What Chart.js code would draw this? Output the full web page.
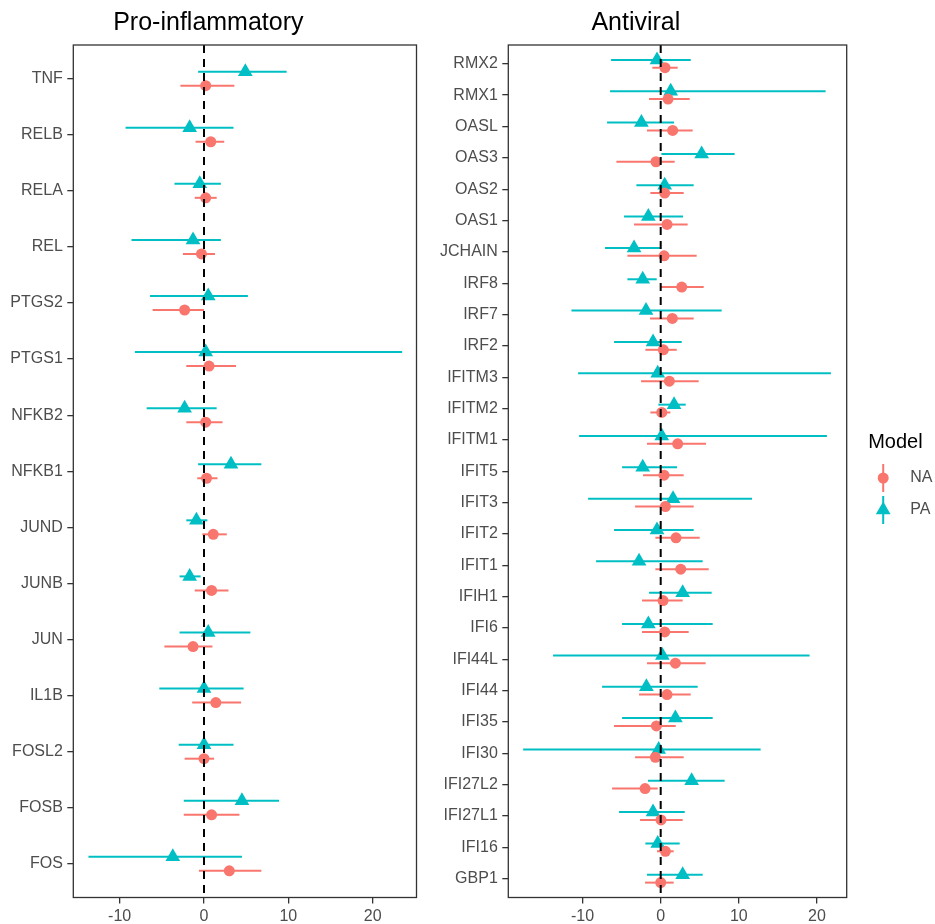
<!DOCTYPE html>
<html>
<head>
<meta charset="utf-8">
<script src="https://cdn.jsdelivr.net/npm/chart.js@4/dist/chart.umd.min.js"></script>
<style>
  body { margin: 0; background: #fff; }
  #wrap { position: relative; width: 935px; height: 924px; }
  .panel { position: absolute; top: 0; height: 924px; }
</style>
</head>
<body>
<div id="wrap">
  <div class="panel" style="left:0;width:425px"><canvas id="pro"></canvas></div>
  <div class="panel" style="left:425px;width:510px"><canvas id="anti"></canvas></div>
</div>
<script>
// categories, top to bottom as shown
const proGenes = ['TNF', 'RELB', 'RELA', 'REL', 'PTGS2', 'PTGS1', 'NFKB2', 'NFKB1',
  'JUND', 'JUNB', 'JUN', 'IL1B', 'FOSL2', 'FOSB', 'FOS'];
const proNA   = [0.2, 0.8, 0.2, -0.3, -2.3, 0.6, 0.2, 0.3, 1.1, 0.9, -1.3, 1.4, 0.0, 0.9, 3.0];
const proNAlo = [-2.8, -1.0, -1.1, -2.5, -6.1, -2.1, -2.1, -0.8, -0.2, -1.1, -4.7, -1.4, -2.3, -2.4, -0.6];
const proNAhi = [3.6, 2.4, 1.5, 1.3, 0.0, 3.8, 2.2, 1.6, 2.7, 2.9, 1.0, 4.4, 1.2, 4.2, 6.8];
const proPA   = [4.9, -1.7, -0.5, -1.3, 0.5, 0.2, -2.3, 3.2, -0.9, -1.7, 0.5, 0.0, 0.0, 4.5, -3.7];
const proPAlo = [-0.7, -9.3, -3.5, -8.6, -6.4, -8.2, -6.8, -0.7, -2.1, -2.9, -2.9, -5.3, -3.0, -2.4, -13.7];
const proPAhi = [9.8, 3.5, 2.0, 2.0, 5.2, 23.5, 1.5, 6.8, 0.4, -0.4, 5.5, 4.7, 3.5, 8.9, 4.5];

const antiGenes = ['RMX2', 'RMX1', 'OASL', 'OAS3', 'OAS2', 'OAS1', 'JCHAIN', 'IRF8', 'IRF7',
  'IRF2', 'IFITM3', 'IFITM2', 'IFITM1', 'IFIT5', 'IFIT3', 'IFIT2', 'IFIT1', 'IFIH1', 'IFI6',
  'IFI44L', 'IFI44', 'IFI35', 'IFI30', 'IFI27L2', 'IFI27L1', 'IFI16', 'GBP1'];
const antiNA   = [0.55, 0.94, 1.53, -0.6, 0.51, 0.81, 0.43, 2.69, 1.49, 0.34, 1.11, 0.13, 2.17, 0.43,
  0.6, 1.96, 2.56, 0.3, 0.51, 1.88, 0.81, -0.55, -0.68, -2.0, 0.04, 0.6, 0.0];
const antiNAlo = [-1.07, -1.49, -1.75, -5.67, -1.32, -3.41, -4.26, -0.09, -1.36, -1.96, -2.51, -1.32,
  -1.75, -2.26, -3.28, -0.68, -0.68, -2.39, -2.39, -1.75, -2.77, -5.97, -3.28, -6.22, -2.64, -0.47, -2.0];
const antiNAhi = [2.17, 3.71, 4.09, 1.79, 2.94, 3.45, 4.6, 5.5, 4.22, 2.05, 4.86, 1.24, 5.8, 2.94,
  4.22, 4.99, 6.14, 2.81, 3.58, 5.75, 3.84, 1.92, 2.94, -0.38, 2.81, 1.66, 1.66];
const antiPA   = [-0.47, 1.28, -2.47, 5.24, 0.51, -1.58, -3.41, -2.3, -1.88, -0.98, -0.38, 1.71, 0.13,
  -2.3, 1.58, -0.47, -2.77, 2.81, -1.58, 0.21, -1.83, 1.88, -0.26, 3.96, -0.98, -0.38, 2.81];
const antiPAlo = [-6.35, -6.48, -6.86, 0.09, -3.11, -4.69, -7.12, -4.26, -11.42, -5.97, -10.57, -0.3,
  -10.44, -4.94, -9.29, -5.97, -8.27, -1.49, -4.94, -13.77, -7.5, -4.94, -17.6, -1.62, -5.33, -1.96, -1.75];
const antiPAhi = [3.84, 21.1, 1.71, 9.46, 4.22, 2.86, -0.09, -0.51, 7.8, 2.69, 21.78, 3.2, 21.27, 2.09,
  11.68, 4.22, 5.37, 6.52, 6.65, 19.05, 4.73, 6.65, 12.79, 8.18, 3.07, 2.43, 5.37];

const xTicks = [-10, 0, 10, 20];
const models = ['NA', 'PA'];
const modelColors = ['#F8766D', '#00BFC4'];

Chart.defaults.font.family = '"Liberation Sans", Arial, Helvetica, sans-serif';
Chart.defaults.color = '#4D4D4D';

// horizontal ranges under the points, dashed zero line and panel box
const forestPlugin = {
  id: 'forest',
  beforeDatasetsDraw(chart) {
    const ctx = chart.ctx, xs = chart.scales.x;
    ctx.save();
    ctx.lineWidth = 2;
    chart.data.datasets.forEach((ds, d) => {
      const meta = chart.getDatasetMeta(d);
      ctx.strokeStyle = ds.backgroundColor;
      meta.data.forEach((pt, i) => {
        ctx.beginPath();
        ctx.moveTo(xs.getPixelForValue(ds.lo[i]), pt.y);
        ctx.lineTo(xs.getPixelForValue(ds.hi[i]), pt.y);
        ctx.stroke();
      });
    });
    ctx.restore();
  },
  afterDatasetsDraw(chart) {
    const ctx = chart.ctx, a = chart.chartArea;
    const x0 = chart.scales.x.getPixelForValue(0);
    ctx.save();
    ctx.strokeStyle = '#000';
    ctx.lineWidth = 2;
    ctx.setLineDash([8, 6]);
    ctx.beginPath();
    ctx.moveTo(x0, a.top);
    ctx.lineTo(x0, a.bottom);
    ctx.stroke();
    ctx.setLineDash([]);
    ctx.strokeStyle = '#333';
    ctx.lineWidth = 1.3;
    ctx.strokeRect(a.left, a.top, a.right - a.left, a.bottom - a.top);
    ctx.restore();
  }
};

// ggplot-like legend: title + key (vertical range with point)
const legendPlugin = {
  id: 'modelLegend',
  afterDraw(chart) {
    const ctx = chart.ctx, a = chart.chartArea;
    const left = a.right + 21.5;
    ctx.save();
    ctx.fillStyle = '#000';
    ctx.font = '20px "Liberation Sans", Arial, sans-serif';
    ctx.textBaseline = 'middle';
    ctx.textAlign = 'left';
    ctx.fillText('Model', left, 442);
    chart.data.datasets.forEach((ds, d) => {
      const cx = left + 15, cy = 478 + d * 32;
      ctx.strokeStyle = ds.backgroundColor;
      ctx.fillStyle = ds.backgroundColor;
      ctx.lineWidth = 2;
      ctx.beginPath();
      ctx.moveTo(cx, cy - 14);
      ctx.lineTo(cx, cy + 14);
      ctx.stroke();
      Chart.helpers.drawPoint(ctx, {
        pointStyle: ds.pointStyle, radius: ds.pointRadius, rotation: 0, borderWidth: 0
      }, cx, cy);
      ctx.fillStyle = '#4D4D4D';
      ctx.font = '16px "Liberation Sans", Arial, sans-serif';
      ctx.fillText(ds.label, left + 42, cy);
    });
    ctx.restore();
  }
};

function makePanel(id, title, genes, est, yAxisWidth, xMin, xMax, padRight, extraPlugins) {
  const n = genes.length;
  const styles = ['circle', 'triangle'];
  const radii = [5.5, 8.5];
  const offsets = [0.125, -0.125]; // dodge: PA above, NA below
  const datasets = models.map((m, k) => ({
    label: m,
    data: est[k].v.map((v, i) => ({ x: v, y: i + 1 + offsets[k] })),
    lo: est[k].lo,
    hi: est[k].hi,
    backgroundColor: modelColors[k],
    borderColor: modelColors[k],
    pointStyle: styles[k],
    pointRadius: radii[k],
    pointBorderWidth: 0,
    pointHoverRadius: radii[k]
  }));
  return new Chart(document.getElementById(id), {
    type: 'scatter',
    data: { datasets },
    options: {
      responsive: true,
      maintainAspectRatio: false,
      animation: false,
      layout: { padding: { left: 0, right: padRight, top: 0, bottom: 0 } },
      plugins: {
        legend: { display: false },
        tooltip: { enabled: false },
        title: {
          display: true,
          text: title,
          color: '#000',
          font: { size: 25, weight: 'normal' },
          padding: { top: 8, bottom: 7 }
        }
      },
      scales: {
        x: {
          type: 'linear',
          min: xMin,
          max: xMax,
          afterBuildTicks: s => { s.ticks = xTicks.map(v => ({ value: v })); },
          afterFit: s => { s.height = 26.5; },
          grid: { display: true, drawOnChartArea: false, drawTicks: true, tickLength: 6, color: '#333', lineWidth: 1.3 },
          border: { display: false },
          ticks: { font: { size: 16 }, color: '#4D4D4D', padding: 3, maxRotation: 0 }
        },
        y: {
          type: 'linear',
          reverse: true,
          min: 0.4,
          max: n + 0.6,
          afterBuildTicks: s => { s.ticks = genes.map((g, i) => ({ value: i + 1 })); },
          afterFit: s => { s.width = yAxisWidth; },
          grid: { display: true, drawOnChartArea: false, drawTicks: true, tickLength: 6, color: '#333', lineWidth: 1.3 },
          border: { display: false },
          ticks: {
            font: { size: 16 },
            color: '#4D4D4D',
            padding: 4.5,
            autoSkip: false,
            callback: v => genes[Math.round(v) - 1]
          }
        }
      }
    },
    plugins: [forestPlugin].concat(extraPlugins)
  });
}

makePanel('pro', 'Pro-inflammatory', proGenes, [
  { v: proNA, lo: proNAlo, hi: proNAhi },
  { v: proPA, lo: proPAlo, hi: proPAhi }
], 73.3, -15.5, 25.2, 8.3, []);

makePanel('anti', 'Antiviral', antiGenes, [
  { v: antiNA, lo: antiNAlo, hi: antiNAhi },
  { v: antiPA, lo: antiPAlo, hi: antiPAhi }
], 83.3, -19.5, 23.8, 88.3, [legendPlugin]);
</script>
</body>
</html>
